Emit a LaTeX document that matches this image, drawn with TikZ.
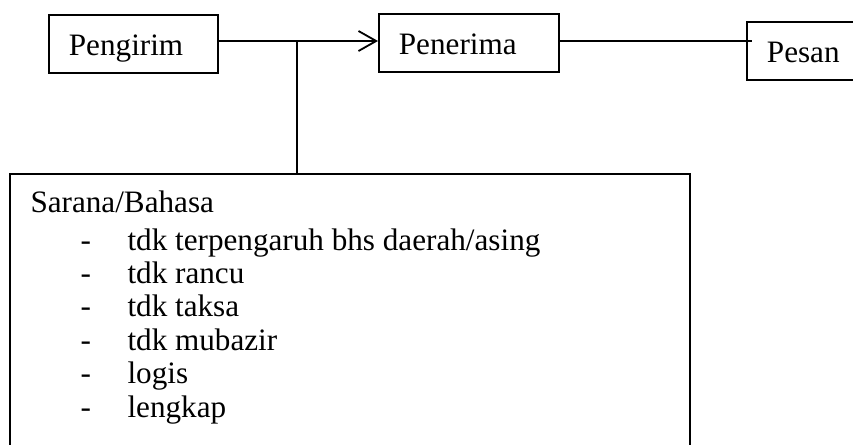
\documentclass[tikz,border=0pt]{standalone}
\usepackage{fontspec}
\setmainfont{Liberation Serif}
\usepackage{tikz}
\usetikzlibrary{arrows.meta,positioning,calc}

\begin{document}
\begin{tikzpicture}[x=0.385pt,y=-0.385pt]
            \tikzset{
              teks/.style={font=\fontsize{12pt}{12.85pt}\selectfont},
              kotak/.style={teks, draw, line width=0.7pt, anchor=base west, align=left,
                inner xsep=7.7pt, inner ysep=0pt, text height=15.4pt, text depth=6.9pt},
              garis/.style={line width=0.7pt},
              panah/.style={garis, -{Straight Barb[length=6.8pt,width=7.7pt]}},
              butir/.style={teks, anchor=base west, inner sep=0pt},
            }
            \useasboundingbox (0,0) rectangle (853,444);
            \clip (0,0) rectangle (853,444);
            \node[kotak, text width=49.7pt] (pengirim) at (48,55) {Pengirim};
            \node[kotak, text width=53.9pt] (penerima) at (378,54) {Penerima};
            \node[kotak, text width=27.7pt] (pesan) at (746,62) {Pesan};
            %\node[kotak] (pesan) [right=70pt of penerima] {Pesan};
            \node[draw, line width=0.7pt, anchor=north west, minimum width=261.8pt,
              minimum height=115.5pt] (sarana) at (9,173) {};
            \coordinate (cabang) at (297,41);

            \draw[panah] (pengirim.east |- cabang) -- (penerima.west |- cabang);
            \draw[garis] (cabang) -- (sarana.north -| cabang);
            \draw[garis] (penerima.east |- cabang) -- ($(pesan.west |- cabang)+(6,0)$);

            \node[butir] (judul) at (30,212) {Sarana/Bahasa};
            \foreach \isi [count=\i] in {tdk terpengaruh bhs daerah/asing, tdk rancu,
              tdk taksa, tdk mubazir, logis, lengkap} {
              \node[butir] (strip\i) at (80,{250+33.4*(\i-1)}) {-};
              \node[butir] (isi\i) at (127,{250+33.4*(\i-1)}) {\isi};
            }
          \end{tikzpicture}
\end{document}
